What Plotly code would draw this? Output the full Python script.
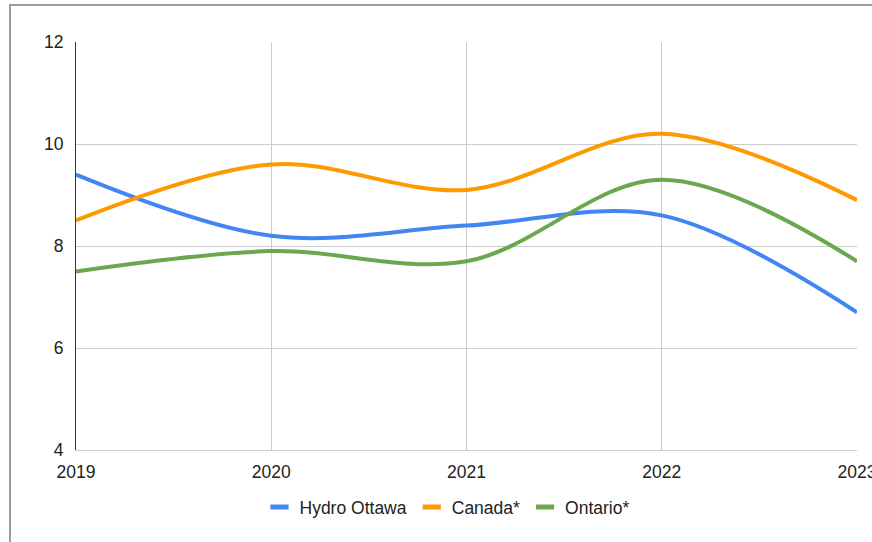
import plotly.graph_objects as go

years = [2019, 2020, 2021, 2022, 2023]
hydro_ottawa = [9.4, 8.2, 8.4, 8.6, 6.7]
canada = [8.5, 9.6, 9.1, 10.2, 8.9]
ontario = [7.5, 7.9, 7.7, 9.3, 7.7]

series = [
    ("Hydro Ottawa", hydro_ottawa, "#4285F4"),
    ("Canada*", canada, "#FF9900"),
    ("Ontario*", ontario, "#6AA84F"),
]

fig = go.Figure()
for name, vals, color in series:
    fig.add_trace(go.Scatter(
        x=years, y=vals, name=name, mode="lines", showlegend=False,
        line=dict(color=color, width=4, shape="spline", smoothing=1),
    ))
# legend entries drawn as short thick dashes
for name, vals, color in series:
    fig.add_trace(go.Scatter(
        x=[None], y=[None], name=name, mode="markers",
        marker=dict(symbol="line-ew", size=13, color=color,
                    line=dict(color=color, width=5)),
    ))

W, H = 872, 542
L, R, T, B = 76, 15, 42, 92
pw, ph = W - L - R, H - T - B

def px_x(p):
    return (p - L) / pw

def px_y(p):
    return 1 - (p - T) / ph

fs = 17.5
fig.update_layout(
    width=W, height=H,
    margin=dict(l=L, r=R, t=T, b=B, autoexpand=False),
    paper_bgcolor="white", plot_bgcolor="white",
    font=dict(family="Liberation Sans, Arial, sans-serif", size=fs, color="#222222"),
    showlegend=True,
    legend=dict(
        orientation="h", x=px_x(447), xanchor="center",
        y=px_y(507), yanchor="middle",
        font=dict(size=fs, color="#222222"),
        itemwidth=30, tracegroupgap=0,
    ),
    xaxis=dict(
        range=[2019, 2023], tickvals=years, ticktext=[str(y) for y in years],
        showgrid=True, gridcolor="#cccccc", gridwidth=1,
        showline=True, linecolor="#cccccc", linewidth=1,
        zeroline=False, ticks="", ticklabelstandoff=6,
        ticklabeloverflow="allow", automargin=False,
    ),
    yaxis=dict(
        range=[4, 12], tickvals=[4, 6, 8, 10, 12],
        showgrid=True, gridcolor="#cccccc", gridwidth=1,
        showline=True, linecolor="#333333", linewidth=1,
        zeroline=False, ticks="", ticklabelstandoff=8,
        ticklabeloverflow="allow", automargin=False,
    ),
    shapes=[dict(
        type="rect", xref="paper", yref="paper",
        x0=px_x(10), x1=px_x(880), y0=px_y(560), y1=px_y(5),
        line=dict(color="#9e9e9e", width=2), fillcolor="rgba(0,0,0,0)",
        layer="below",
    )],
)

fig.write_html("out.html")
